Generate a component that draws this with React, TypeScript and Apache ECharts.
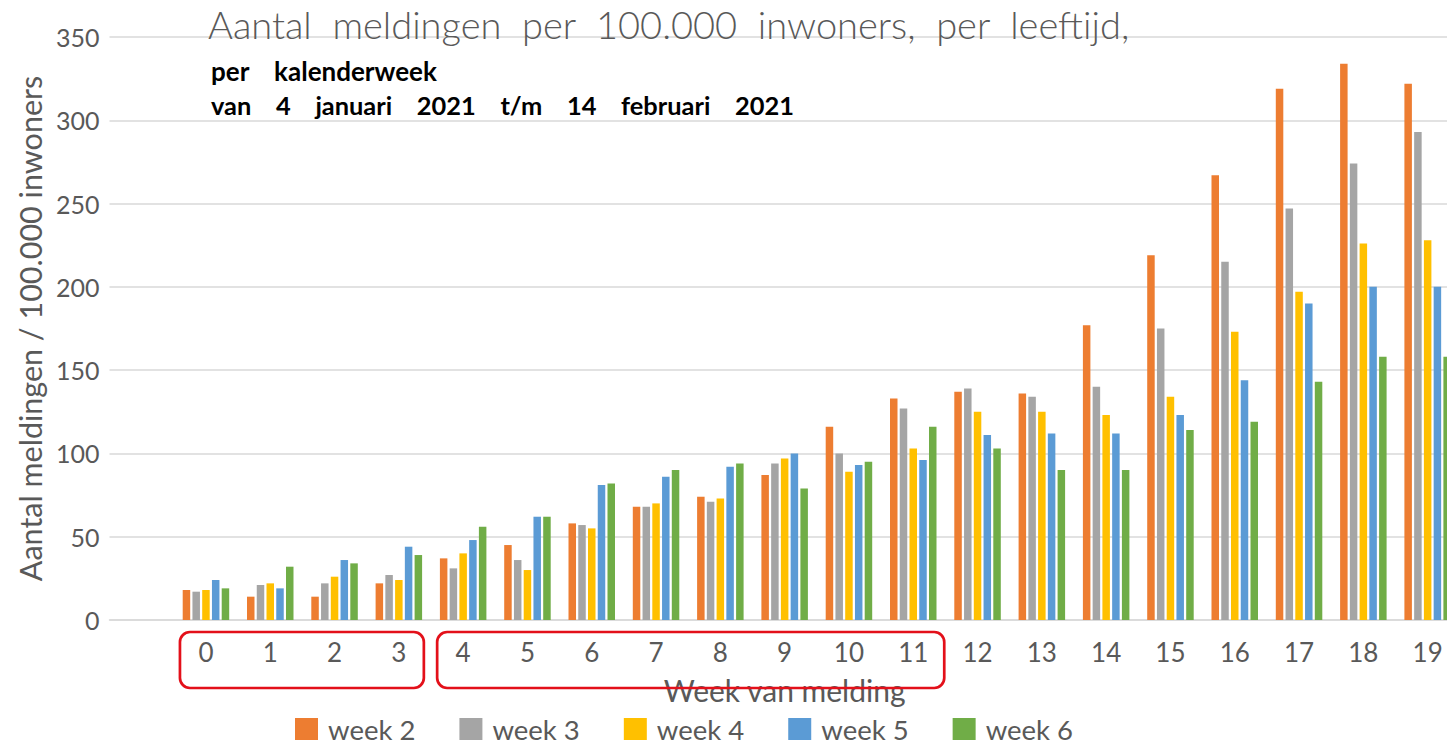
import React, { useEffect, useRef } from "react";
import * as echarts from "echarts";

const categories = ["", "0", "1", "2", "3", "4", "5", "6", "7", "8", "9", "10", "11", "12", "13", "14", "15", "16", "17", "18", "19"];
const seriesNames = ["week 2", "week 3", "week 4", "week 5", "week 6"];
const week2 = [18, 14, 14, 22, 37, 45, 58, 68, 74, 87, 116, 133, 137, 136, 177, 219, 267, 319, 334, 322];
const week3 = [17, 21, 22, 27, 31, 36, 57, 68, 71, 94, 100, 127, 139, 134, 140, 175, 215, 247, 274, 293];
const week4 = [18, 22, 26, 24, 40, 30, 55, 70, 73, 97, 89, 103, 125, 125, 123, 134, 173, 197, 226, 228];
const week5 = [24, 19, 36, 44, 48, 62, 81, 86, 92, 100, 93, 96, 111, 112, 112, 123, 144, 190, 200, 200];
const week6 = [19, 32, 34, 39, 56, 62, 82, 90, 94, 79, 95, 116, 103, 90, 90, 114, 119, 143, 158, 158];
const colors = ["#ED7D31", "#A5A5A5", "#FFC000", "#5B9BD5", "#70AD47"];
const yTicks = { min: 0, max: 350, interval: 50 };
const boxes: [string, string, number, number][] = [["0", "3", 26, 25], ["4", "11", 26, 31]];

const titleText = "Aantal meldingen per 100.000 inwoners, per leeftijd,";
const sub1 = "per kalenderweek";
const sub2 = "van 4 januari 2021 t/m 14 februari 2021";

const FONT = "Lato, 'Open Sans', sans-serif";
const GREY = "#595959";
const widen = (s: string, n: number) => s.split(" ").join(" " + "\u00a0".repeat(n));

export default function App() {
  const ref = useRef<HTMLDivElement>(null);
  useEffect(() => {
    if (!ref.current) return;
    const chart = echarts.init(ref.current, null, { renderer: "svg" });
    const all = [week2, week3, week4, week5, week6];
    chart.setOption({
      animation: false,
      textStyle: { fontFamily: FONT },
      title: [
        {
          text: widen(titleText, 1),
          left: 203,
          top: 0,
          textStyle: { fontFamily: FONT, fontSize: 38, fontWeight: 300, color: GREY },
        },
        {
          text: widen(sub1, 3),
          left: 206,
          top: 53,
          textStyle: { fontFamily: FONT, fontSize: 26, fontWeight: "bold", color: "#000" },
        },
        {
          text: widen(sub2, 3),
          left: 206,
          top: 87.5,
          textStyle: { fontFamily: FONT, fontSize: 25.4, fontWeight: "bold", color: "#000" },
        },
      ],
      legend: {
        data: seriesNames,
        left: 295,
        top: 715,
        padding: 0,
        icon: "rect",
        itemWidth: 23,
        itemHeight: 22,
        itemGap: 44,
        textStyle: { fontFamily: FONT, fontSize: 27.5, lineHeight: 22, color: GREY, padding: [0, 0, 0, 5] },
      },
      grid: { left: 109.5, right: 20.2, top: 37, bottom: 125, containLabel: false },
      xAxis: {
        type: "category",
        data: categories,
        axisLine: { lineStyle: { color: "#d9d9d9", width: 1.5 } },
        axisTick: { show: false },
        axisLabel: { fontFamily: FONT, fontSize: 26, color: GREY, margin: 19, interval: 0 },
        name: "Week van melding",
        nameLocation: "middle",
        nameGap: 55,
        nameTextStyle: { fontFamily: FONT, fontSize: 30, color: GREY },
      },
      yAxis: {
        type: "value",
        min: yTicks.min,
        max: yTicks.max,
        interval: yTicks.interval,
        axisLine: { show: false },
        axisTick: { show: false },
        splitLine: { lineStyle: { color: "#d9d9d9", width: 1.5 } },
        axisLabel: { fontFamily: FONT, fontSize: 25, color: GREY, margin: 10 },
        name: "Aantal meldingen / 100.000 inwoners",
        nameLocation: "middle",
        nameGap: 58,
        nameTextStyle: { fontFamily: FONT, fontSize: 30.5, color: GREY },
      },
      series: seriesNames.map((n, i) => ({
        name: n,
        type: "bar",
        data: [null, ...all[i]],
        barWidth: 7.5,
        barGap: "30%",
        itemStyle: { color: colors[i] },
      })),
    });
    const graphics = boxes.map(([a, b, padL, padR]) => {
      const xa = chart.convertToPixel({ xAxisIndex: 0 }, a) as number;
      const xb = chart.convertToPixel({ xAxisIndex: 0 }, b) as number;
      return {
        type: "rect",
        z: 100,
        shape: { x: xa - padL, y: 632, width: xb - xa + padL + padR, height: 56, r: 10 },
        style: { fill: "none", stroke: "#E3101A", lineWidth: 2.7 },
      };
    });
    chart.setOption({ graphic: graphics });
    return () => chart.dispose();
  }, []);
  return (
    <div style={{ position: "fixed", left: 0, top: 0, width: 1447, height: 745, overflow: "hidden", background: "#fff" }}>
      <div ref={ref} style={{ width: 1480, height: 745 }} />
    </div>
  );
}
